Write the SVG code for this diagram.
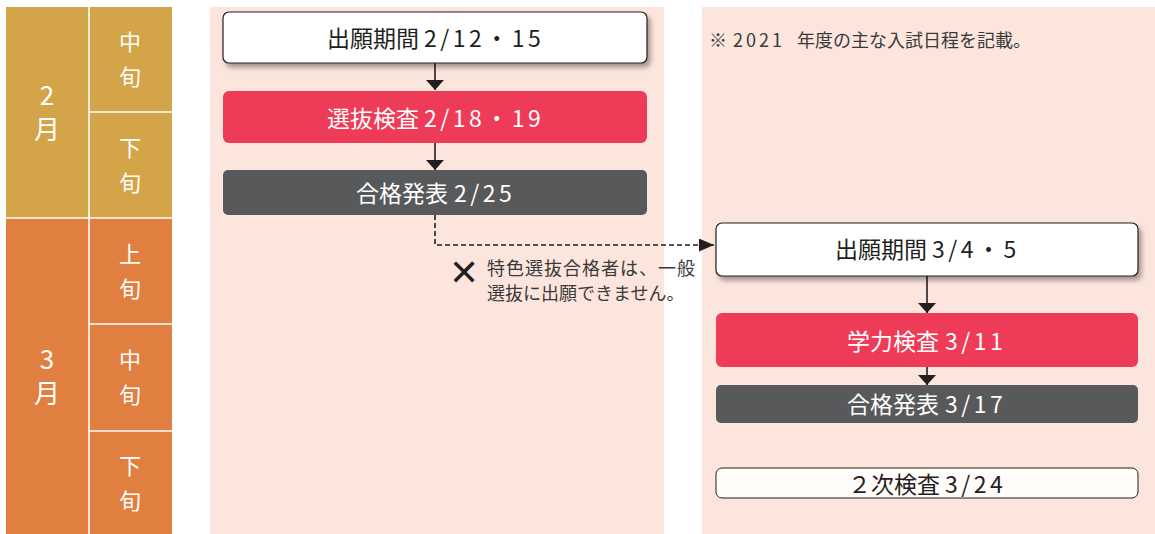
<svg xmlns="http://www.w3.org/2000/svg" width="1155" height="534" viewBox="0 0 1155 534">
<style>
text{font-family:"Noto Sans CJK JP","Noto Sans",sans-serif;}
.mon{fill:#fff;font-size:26px;text-anchor:middle;}
.jun{fill:#fff;font-size:22px;text-anchor:middle;}
.bt{font-size:23px;}
.ls{letter-spacing:3.5px;}
.wt{fill:#fff;}
.dk{fill:#231f20;}
.note{fill:#3a3a3a;font-size:18px;}
.conn{stroke:#231f20;stroke-width:1.6;fill:none;}
</style>
<defs>
<filter id="sh" x="-5%" y="-20%" width="115%" height="160%">
<feDropShadow dx="3" dy="4" stdDeviation="2.5" flood-color="#000" flood-opacity="0.35"/>
</filter>
<marker id="ah" viewBox="0 0 10 18" refX="10" refY="9" markerWidth="10" markerHeight="18" markerUnits="userSpaceOnUse" orient="auto">
<path d="M0,0 L10,9 L0,18 Z" fill="#231f20"/>
</marker>
<marker id="ah2" viewBox="0 0 15 13" refX="15" refY="6.5" markerWidth="15" markerHeight="13" markerUnits="userSpaceOnUse" orient="auto">
<path d="M0,0 L15,6.5 L0,13 Z" fill="#231f20"/>
</marker>
</defs>
<rect width="1155" height="534" fill="#fff"/>
<g id="timeline">
<rect x="6" y="7" width="166" height="211" fill="#D4A548"/>
<rect x="6" y="218" width="166" height="316" fill="#E07F40"/>
<g stroke="#fff" stroke-width="1.6">
<line x1="89" y1="7" x2="89" y2="534"/>
<line x1="6" y1="218" x2="172" y2="218"/>
<line x1="89" y1="112" x2="172" y2="112"/>
<line x1="89" y1="324" x2="172" y2="324"/>
<line x1="89" y1="431" x2="172" y2="431"/>
</g>
<text class="mon" x="47" y="105">2</text>
<text class="mon" x="47" y="139">月</text>
<text class="mon" x="47" y="369">3</text>
<text class="mon" x="47" y="403">月</text>
<text class="jun" x="130" y="50">中</text>
<text class="jun" x="130" y="85">旬</text>
<text class="jun" x="130" y="156">下</text>
<text class="jun" x="130" y="191">旬</text>
<text class="jun" x="130" y="262">上</text>
<text class="jun" x="130" y="297">旬</text>
<text class="jun" x="130" y="368">中</text>
<text class="jun" x="130" y="403">旬</text>
<text class="jun" x="130" y="474">下</text>
<text class="jun" x="130" y="509">旬</text>
</g>
<rect x="210" y="7" width="454" height="527" fill="#FCE5DC"/>
<rect x="702" y="7" width="453" height="527" fill="#FCE5DC"/>
<g id="connectors">
<line class="conn" x1="435" y1="63" x2="435" y2="90" marker-end="url(#ah)"/>
<line class="conn" x1="435" y1="143" x2="435" y2="170" marker-end="url(#ah)"/>
<polyline class="conn" points="435,215 435,245 714,245" stroke-dasharray="5,3" marker-end="url(#ah2)"/>
<line class="conn" x1="927" y1="276" x2="927" y2="313" marker-end="url(#ah)"/>
<line class="conn" x1="927" y1="367" x2="927" y2="385" marker-end="url(#ah)"/>
</g>
<g id="n1">
<rect x="223" y="12" width="424" height="51" rx="6" fill="#fff" stroke="#231f20" stroke-width="1.2" filter="url(#sh)"/>
<text class="bt dk" x="327" y="47">出願期間 <tspan class="ls" x="424">2/12・15</tspan></text>
</g>
<g id="n2">
<rect x="223" y="91" width="424" height="52" rx="6" fill="#EE3B58"/>
<text class="bt wt" x="327" y="127">選抜検査 <tspan class="ls" x="424">2/18・19</tspan></text>
</g>
<g id="n3">
<rect x="223" y="170" width="424" height="45" rx="5" fill="#58595B"/>
<text class="bt wt" x="356" y="202">合格発表 <tspan class="ls" x="454">2/25</tspan></text>
</g>
<g id="note1">
<text x="464" y="285" font-size="36" text-anchor="middle" fill="#231f20" style="font-family:'DejaVu Sans',sans-serif">✕</text>
<text class="note" x="487" y="275" letter-spacing="1">特色選抜合格者は、一般</text>
<text class="note" x="487" y="300">選抜に出願できません。</text>
</g>
<g id="note2">
<text class="note" x="709" y="47">※ <tspan x="733" letter-spacing="3">2021</tspan> <tspan x="797">年度の主な入試日程を記載。</tspan></text>
</g>
<g id="n4">
<rect x="716" y="223" width="422" height="53" rx="6" fill="#fff" stroke="#231f20" stroke-width="1.2" filter="url(#sh)"/>
<text class="bt dk" x="835" y="258">出願期間 <tspan class="ls" x="932">3/4・5</tspan></text>
</g>
<g id="n5">
<rect x="716" y="313" width="422" height="54" rx="6" fill="#EE3B58"/>
<text class="bt wt" x="847" y="350">学力検査 <tspan class="ls" x="945">3/11</tspan></text>
</g>
<g id="n6">
<rect x="716" y="385" width="422" height="38" rx="5" fill="#58595B"/>
<text class="bt wt" x="847" y="413">合格発表 <tspan class="ls" x="945">3/17</tspan></text>
</g>
<g id="n7">
<rect x="716" y="468" width="422" height="30" rx="6" fill="#FFFCFA" stroke="#231f20" stroke-width="1"/>
<text class="bt dk" x="848" y="493">２次検査 <tspan class="ls" x="945">3/24</tspan></text>
</g>
</svg>
